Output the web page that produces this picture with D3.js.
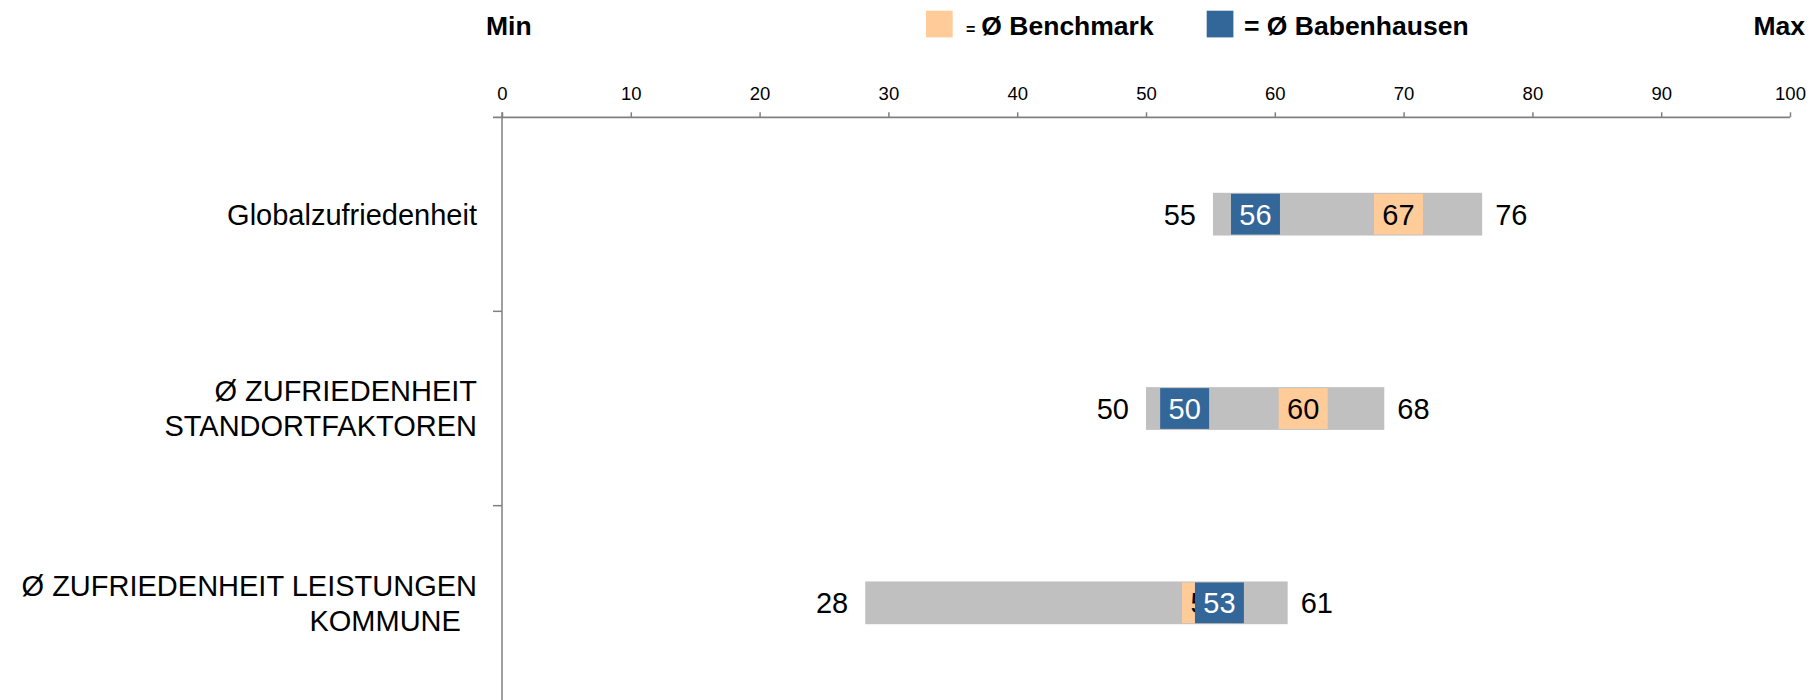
<!DOCTYPE html>
<html>
<head>
<meta charset="utf-8">
<script src="https://cdn.jsdelivr.net/npm/d3@7"></script>
<style>
  html, body { margin: 0; padding: 0; background: #ffffff; }
  svg { display: block; font-family: "Liberation Sans", Arial, sans-serif; }
</style>
</head>
<body>
<svg id="chart" width="1811" height="700"></svg>
<script>
// ---- data ----
const categories = ["Globalzufriedenheit", "Ø ZUFRIEDENHEIT\nSTANDORTFAKTOREN", "Ø ZUFRIEDENHEIT LEISTUNGEN\nKOMMUNE  "];
const minValues = [55.2, 50.0, 28.2];
const maxValues = [76.1, 68.5, 61.0];
const benchmarkValues = [67.7, 60.3, 52.8];
const localValues = [56.6, 51.1, 53.8];
const minLabels = ["55", "50", "28"];
const maxLabels = ["76", "68", "61"];
const benchmarkLabels = ["67", "60", "52"];
const localLabels = ["56", "50", "53"];
const xTicks = [0, 10, 20, 30, 40, 50, 60, 70, 80, 90, 100];
const legendItems = ["Ø Benchmark", "Ø Babenhausen"];

// ---- styles ----
const GRAY = "#C0C0C0", BLUE = "#336699", ORANGE = "#FFCC99", AXIS = "#808080";
const MARKER_W = 3.8;

const svg = d3.select("#chart");
const x = d3.scaleLinear().domain([0, 100]).range([502, 1790]);
const y = d3.scaleBand().domain(categories).range([117, 700]).paddingInner(0.78).paddingOuter(0.39);

// ---- x axis (top) ----
const axisY = 117.3;
const gx = svg.append("g").attr("transform", `translate(0,${axisY})`)
  .call(d3.axisTop(x).tickValues(xTicks).tickSize(5).tickSizeOuter(0).tickPadding(12));
gx.select(".domain").remove();
gx.selectAll(".tick line").attr("stroke", AXIS).attr("stroke-width", 1.5);
gx.selectAll(".tick text").attr("font-size", 18.5).attr("fill", "#000")
  .attr("font-family", "'Liberation Sans', Arial, sans-serif");
svg.append("line").attr("x1", 493).attr("x2", x(100)).attr("y1", axisY).attr("y2", axisY)
  .attr("stroke", AXIS).attr("stroke-width", 1.8);

// ---- y axis (left) ----
svg.append("line").attr("x1", x(0)).attr("x2", x(0)).attr("y1", axisY - 5).attr("y2", 700)
  .attr("stroke", AXIS).attr("stroke-width", 1.5);
const step = y.step();
d3.range(1, categories.length).forEach(i => {
  const yy = y.range()[0] + i * step;
  svg.append("line").attr("x1", x(0) - 9).attr("x2", x(0)).attr("y1", yy).attr("y2", yy)
    .attr("stroke", AXIS).attr("stroke-width", 1.5);
});

// ---- category labels ----
categories.forEach(c => {
  const lines = c.split("\n");
  const cy = y(c) + y.bandwidth() / 2;
  const lh = 35;
  const t = svg.append("text").attr("text-anchor", "end").attr("font-size", 29).attr("fill", "#000")
    .style("white-space", "pre");
  lines.forEach((ln, i) => {
    t.append("tspan").attr("x", 477)
      .attr("y", cy + 10.4 + (i - (lines.length - 1) / 2) * lh)
      .text(ln);
  });
});

// ---- bars ----
const bh = y.bandwidth();
categories.forEach((c, i) => {
  const top = y(c);
  const cy = top + bh / 2;
  const g = svg.append("g");
  // range bar
  g.append("rect").attr("x", x(minValues[i])).attr("y", top)
    .attr("width", x(maxValues[i]) - x(minValues[i])).attr("height", bh).attr("fill", GRAY);
  // benchmark marker
  g.append("rect").attr("x", x(benchmarkValues[i])).attr("y", top + 1)
    .attr("width", x(benchmarkValues[i] + MARKER_W) - x(benchmarkValues[i])).attr("height", bh - 2).attr("fill", ORANGE);
  g.append("text").attr("x", x(benchmarkValues[i] + MARKER_W / 2)).attr("y", cy + 10.5)
    .attr("text-anchor", "middle").attr("font-size", 29).attr("fill", "#000").text(benchmarkLabels[i]);
  // local marker
  g.append("rect").attr("x", x(localValues[i])).attr("y", top + 1)
    .attr("width", x(localValues[i] + MARKER_W) - x(localValues[i])).attr("height", bh - 2).attr("fill", BLUE);
  g.append("text").attr("x", x(localValues[i] + MARKER_W / 2)).attr("y", cy + 10.5)
    .attr("text-anchor", "middle").attr("font-size", 29).attr("fill", "#fff").text(localLabels[i]);
  // min / max labels
  g.append("text").attr("x", x(minValues[i]) - 17).attr("y", cy + 10.5)
    .attr("text-anchor", "end").attr("font-size", 29).attr("fill", "#000").text(minLabels[i]);
  g.append("text").attr("x", x(maxValues[i]) + 13).attr("y", cy + 10.5)
    .attr("text-anchor", "start").attr("font-size", 29).attr("fill", "#000").text(maxLabels[i]);
});

// ---- header: Min / legend / Max ----
svg.append("text").attr("x", 486).attr("y", 34.5).attr("font-size", 26.5).attr("font-weight", "bold").text("Min");
svg.append("text").attr("x", 1805).attr("y", 34.5).attr("text-anchor", "end").attr("font-size", 26.5).attr("font-weight", "bold").text("Max");

// legend item 1
svg.append("rect").attr("x", 926).attr("y", 10.7).attr("width", 26.7).attr("height", 26.7).attr("fill", ORANGE);
const l1 = svg.append("text").attr("x", 966).attr("y", 34.5).attr("font-weight", "bold");
l1.append("tspan").attr("font-size", 16).text("=");
l1.append("tspan").attr("font-size", 26.5).attr("dx", 6).text(legendItems[0]);
// legend item 2
svg.append("rect").attr("x", 1206.7).attr("y", 10.7).attr("width", 26.7).attr("height", 26.7).attr("fill", BLUE);
svg.append("text").attr("x", 1244).attr("y", 34.5).attr("font-weight", "bold").attr("font-size", 26.5)
  .style("white-space", "pre").text("= " + legendItems[1]);
</script>
</body>
</html>
